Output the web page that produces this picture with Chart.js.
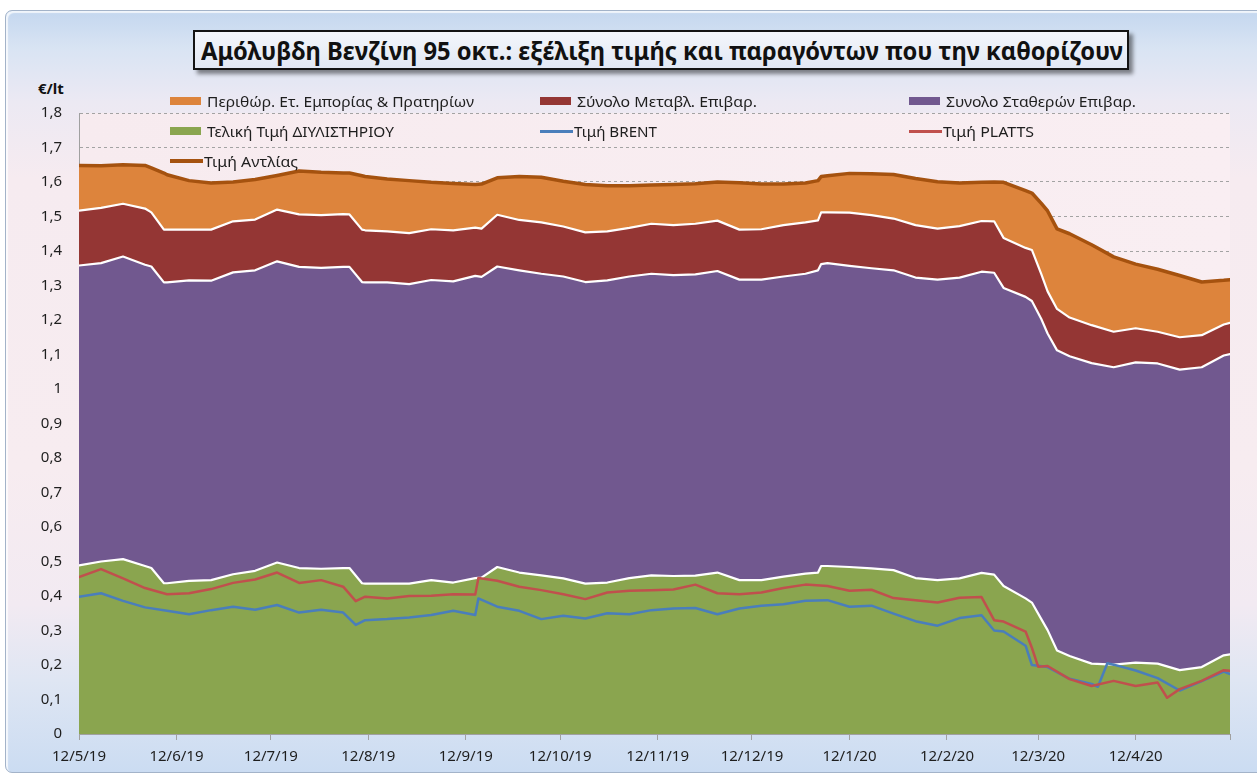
<!DOCTYPE html>
<html>
<head>
<meta charset="utf-8">
<script src="https://cdn.jsdelivr.net/npm/chart.js@4/dist/chart.umd.min.js"></script>
<style>
html,body{margin:0;padding:0;background:#ffffff;width:1257px;height:783px;overflow:hidden;font-family:"Noto Sans",sans-serif;}
#frame{position:absolute;left:5px;top:10px;width:1262px;height:763px;box-sizing:border-box;border:1px solid #a3b3c9;border-radius:7px 0 0 7px;
background:linear-gradient(to bottom,#c4d7ef 0%,#d9e4f3 5%,#ece9f3 12%,#f6ebf0 22%,#f7ecf0 60%,#f2eaf2 78%,#dfe6f3 88%,#cbdcf2 100%);
box-shadow:inset 2px 2px 1px rgba(255,255,255,0.75);}
#wrap{position:absolute;left:0;top:0;width:1257px;height:783px;}
#title{position:absolute;left:193px;top:30px;width:936px;height:40px;box-sizing:border-box;border:2px solid #141414;
background:linear-gradient(to bottom,#f4f6fb,#e2e8f4);box-shadow:4px 4px 4px rgba(0,0,0,0.45);overflow:visible;white-space:nowrap;}
#title span{position:absolute;left:6px;top:2px;font-weight:bold;font-size:25px;line-height:32px;color:#111;transform-origin:0 50%;display:inline-block;}
#unit{position:absolute;left:38px;top:78px;font-weight:bold;font-size:15px;line-height:20px;color:#111;}
.lg{position:absolute;height:20px;display:flex;align-items:center;white-space:nowrap;}
.lg .sw{display:inline-block;flex:none;}
.lg .tx{display:inline-block;font-size:15px;line-height:20px;color:#1e1e1e;transform-origin:0 50%;}
canvas{position:absolute;left:0;top:0;}
</style>
</head>
<body>
<div id="frame"></div>
<div id="title"><span id="titleText">Αμόλυβδη Βενζίνη 95 οκτ.: εξέλιξη τιμής και παραγόντων που την καθορίζουν</span></div>
<div id="unit">€/lt</div>
<div id="wrap"><canvas id="c" width="1257" height="783"></canvas></div>
<div id="legend"></div>
<script>
// ---- data (x = day offset from 12/5/2019) ----
const days = [0,7,14,21,23,27,28, 35,42,49,56,63,70,77,84, 86,90,91,98,105,112,119,126, 128,133,140,147,154,161,168,175, 182,189,196,203,210,217,224,231, 235,236,238,245,252,259,266,273, 280,287,291,294,301,303,306,308, 311,315,322,329,336,343,350,357, 364,366];
const refinery = [0.489,0.500,0.507,0.487,0.481,0.437,0.437, 0.444,0.446,0.463,0.473,0.497,0.481,0.479,0.481, 0.481,0.437,0.436,0.436,0.436,0.446,0.439,0.452, 0.453,0.484,0.468,0.460,0.451,0.436,0.439,0.452, 0.460,0.458,0.459,0.468,0.446,0.446,0.456,0.465, 0.468,0.487,0.487,0.484,0.480,0.475,0.452,0.446, 0.451,0.467,0.462,0.429,0.393,0.381,0.333,0.301, 0.242,0.226,0.204,0.201,0.207,0.204,0.185,0.194, 0.228,0.231];
const fixedCharges = [0.869,0.865,0.877,0.873,0.874,0.872,0.872, 0.871,0.868,0.875,0.871,0.873,0.873,0.872,0.873, 0.873,0.873,0.873,0.873,0.868,0.870,0.873,0.876, 0.872,0.871,0.876,0.874,0.875,0.874,0.876,0.874, 0.874,0.872,0.873,0.874,0.871,0.871,0.870,0.869, 0.876,0.875,0.878,0.873,0.870,0.869,0.871,0.871, 0.872,0.873,0.875,0.864,0.874,0.874,0.870,0.860, 0.870,0.869,0.871,0.862,0.870,0.870,0.871,0.869, 0.869,0.870];
const variableCharges = [0.159,0.160,0.153,0.163,0.157,0.153,0.153, 0.147,0.148,0.148,0.147,0.150,0.152,0.153,0.153, 0.152,0.152,0.151,0.148,0.148,0.147,0.148,0.140, 0.140,0.150,0.146,0.149,0.145,0.144,0.142,0.141, 0.145,0.145,0.147,0.146,0.145,0.146,0.149,0.149, 0.145,0.150,0.147,0.154,0.154,0.150,0.152,0.148, 0.149,0.147,0.149,0.145,0.142,0.148,0.130,0.122, 0.120,0.112,0.110,0.103,0.099,0.092,0.094,0.093, 0.090,0.091];
const margin = [0.131,0.122,0.113,0.125,0.129,0.164,0.159, 0.142,0.135,0.114,0.116,0.099,0.126,0.124,0.119, 0.120,0.156,0.156,0.152,0.152,0.136,0.136,0.125, 0.129,0.107,0.126,0.131,0.131,0.139,0.132,0.122, 0.112,0.118,0.116,0.112,0.136,0.131,0.119,0.114, 0.115,0.104,0.106,0.114,0.120,0.128,0.135,0.136, 0.125,0.112,0.114,0.161,0.166,0.165,0.205,0.233, 0.232,0.243,0.233,0.217,0.186,0.181,0.179,0.154, 0.128,0.125];
const pumpPrice = [1.648,1.647,1.650,1.648,1.641,1.626,1.621, 1.604,1.597,1.600,1.607,1.619,1.632,1.628,1.626, 1.626,1.618,1.616,1.609,1.604,1.599,1.596,1.593, 1.594,1.612,1.616,1.614,1.602,1.593,1.589,1.589, 1.591,1.593,1.595,1.600,1.598,1.594,1.594,1.597, 1.604,1.616,1.618,1.625,1.624,1.622,1.610,1.601, 1.597,1.599,1.600,1.599,1.575,1.568,1.538,1.516, 1.464,1.450,1.418,1.383,1.362,1.347,1.329,1.310, 1.315,1.317];
const brentDays = [0,7,14,21,28,35,42,49,56,63,70,77,84,88,91,98,105,112,119,126,127,133,140,147,154,161,168,175,182,189,196,203,210,217,224,231,238,245,252,259,266,273,280,287,291,294,301,303,308,315,322,324,327,329,336,343,350,357,364,366];
const brent = [0.398,0.408,0.386,0.367,0.357,0.347,0.359,0.369,0.360,0.374,0.352,0.360,0.352,0.316,0.330,0.333,0.338,0.345,0.357,0.345,0.393,0.369,0.357,0.333,0.343,0.335,0.350,0.347,0.359,0.364,0.365,0.347,0.364,0.372,0.376,0.386,0.388,0.369,0.372,0.349,0.327,0.314,0.336,0.344,0.300,0.297,0.256,0.200,0.194,0.160,0.145,0.137,0.205,0.201,0.184,0.162,0.126,0.153,0.181,0.174];
const plattsDays = [0,7,14,21,28,35,42,49,56,63,70,77,84,88,91,98,105,112,119,126,127,133,140,147,154,161,168,175,182,189,196,203,210,217,224,231,238,245,252,259,266,273,280,287,291,294,301,303,305,308,315,322,329,336,343,346,350,357,364,366];
const platts = [0.455,0.478,0.451,0.423,0.405,0.408,0.420,0.438,0.448,0.468,0.438,0.446,0.427,0.385,0.398,0.393,0.400,0.401,0.405,0.404,0.452,0.444,0.427,0.417,0.405,0.391,0.410,0.415,0.417,0.419,0.433,0.408,0.405,0.410,0.423,0.433,0.429,0.415,0.418,0.394,0.388,0.381,0.395,0.397,0.330,0.326,0.297,0.250,0.195,0.197,0.159,0.139,0.154,0.139,0.149,0.105,0.130,0.154,0.185,0.183];
const monthTicks = [0,31,61,92,123,153,184,214,245,276,305,336,366];
const monthLabels = ['12/5/19','12/6/19','12/7/19','12/8/19','12/9/19','12/10/19','12/11/19','12/12/19','12/1/20','12/2/20','12/3/20','12/4/20',''];

const FONT = '"Noto Sans", sans-serif';
const pts = (xs, ys) => xs.map((x, i) => ({x: x, y: ys[i]}));

const plotBg = {
  id: 'plotBg',
  beforeDraw(chart) {
    const {ctx, chartArea: a} = chart;
    ctx.save();
    const g = ctx.createLinearGradient(a.left, 0, a.right, 0);
    g.addColorStop(0, '#f7ebef');
    g.addColorStop(1, '#f9eef2');
    ctx.fillStyle = g;
    ctx.fillRect(a.left, a.top, a.right - a.left, a.bottom - a.top);
    ctx.restore();
  }
};

const chart = new Chart(document.getElementById('c'), {
  type: 'line',
  data: {
    datasets: [
      {label: 'Τελική Τιμή ΔΙΥΛΙΣΤΗΡΙΟΥ', data: pts(days, refinery), backgroundColor: '#8aa54f', borderColor: '#ffffff', borderWidth: 2.2, fill: 'origin', stack: 'areas', order: 10, kind: 'area'},
      {label: 'Συνολο Σταθερών Επιβαρ.', data: pts(days, fixedCharges), backgroundColor: '#71588f', borderColor: '#ffffff', borderWidth: 2.2, fill: '-1', stack: 'areas', order: 10, kind: 'area'},
      {label: 'Σύνολο Μεταβλ. Επιβαρ.', data: pts(days, variableCharges), backgroundColor: '#943634', borderColor: '#ffffff', borderWidth: 2.2, fill: '-1', stack: 'areas', order: 10, kind: 'area'},
      {label: 'Περιθώρ. Ετ. Εμπορίας & Πρατηρίων', data: pts(days, margin), backgroundColor: '#dd843c', borderColor: '#dd843c', borderWidth: 0, fill: '-1', stack: 'areas', order: 10, kind: 'area'},
      {label: 'Τιμή BRENT', data: pts(brentDays, brent), borderColor: '#4a7ebb', backgroundColor: '#4a7ebb', borderWidth: 2.5, fill: false, stack: 'brent', order: 2, kind: 'line'},
      {label: 'Τιμή PLATTS', data: pts(plattsDays, platts), borderColor: '#c0504d', backgroundColor: '#c0504d', borderWidth: 2.5, fill: false, stack: 'platts', order: 1, kind: 'line'},
      {label: 'Τιμή Αντλίας', data: pts(days, pumpPrice), borderColor: '#a5520f', backgroundColor: '#a5520f', borderWidth: 3.5, fill: false, stack: 'pump', order: 0, kind: 'line'}
    ]
  },
  options: {
    responsive: false,
    animation: false,
    events: [],
    elements: {point: {radius: 0}, line: {tension: 0, borderJoinStyle: 'round', borderCapStyle: 'round'}},
    layout: {padding: {top: 113, left: 0, right: 27, bottom: 0}},
    plugins: {legend: {display: false}, tooltip: {enabled: false}, title: {display: false}},
    scales: {
      x: {
        type: 'linear', min: 0, max: 366,
        afterBuildTicks: (s) => { s.ticks = monthTicks.map(v => ({value: v})); },
        afterFit: (s) => { s.height = 49; },
        ticks: {autoSkip: false, maxRotation: 0, padding: 8, color: '#1e1e1e', font: {family: FONT, size: 15},
          callback: (v) => monthLabels[monthTicks.indexOf(v)]},
        grid: {drawOnChartArea: false, drawTicks: true, tickLength: 6, color: '#a0a0a0'},
        border: {display: true, color: '#a0a0a0', width: 1}
      },
      y: {
        stacked: true, min: 0, max: 1.8,
        afterFit: (s) => { s.width = 79; },
        ticks: {stepSize: 0.1, padding: 17, color: '#1e1e1e', font: {family: FONT, size: 15},
          callback: (v) => String(Math.round(v * 10) / 10).replace('.', ',')},
        grid: {color: '#a3a3a3', lineWidth: 1, drawTicks: false},
        border: {display: true, color: '#a0a0a0', width: 1, dash: [3, 3]}
      }
    }
  },
  plugins: [plotBg]
});

// ---- legend (HTML, built from chart datasets) ----
const legendOrder = [3, 2, 1, 0, 4, 5, 6];
const legendSlots = [[170, 101, 267], [540, 101, 180], [909, 101, 190], [170, 131, 187], [540, 131, 83], [909, 131, 91], [170, 161, 94]];
const lg = document.getElementById('legend');
legendOrder.forEach((di, k) => {
  const ds = chart.data.datasets[di];
  const [lx, cy, tw] = legendSlots[k];
  const item = document.createElement('div');
  item.className = 'lg';
  item.style.left = lx + 'px';
  item.style.top = (cy - 10) + 'px';
  const sw = document.createElement('span');
  sw.className = 'sw';
  if (ds.kind === 'area') {
    sw.style.cssText = 'width:31px;height:8px;margin-right:6px;background:' + ds.backgroundColor;
  } else {
    sw.style.cssText = 'width:33px;height:' + (ds.borderWidth > 3 ? 4 : 3) + 'px;margin-right:1px;background:' + ds.borderColor;
  }
  const tx = document.createElement('span');
  tx.className = 'tx';
  tx.textContent = ds.label;
  tx.dataset.w = tw;
  item.appendChild(sw);
  item.appendChild(tx);
  lg.appendChild(item);
});

function fitAll() {
  document.querySelectorAll('.tx').forEach(el => {
    el.style.transform = '';
    const w = el.getBoundingClientRect().width;
    const t = +el.dataset.w;
    if (w > 0) el.style.transform = 'scaleX(' + (t / w).toFixed(4) + ')';
  });
  const tt = document.getElementById('titleText');
  tt.style.transform = '';
  const w = tt.getBoundingClientRect().width;
  if (w > 0) tt.style.transform = 'scaleX(' + (922 / w).toFixed(4) + ')';
}
fitAll();
if (document.fonts && document.fonts.ready) document.fonts.ready.then(fitAll);
</script>
</body>
</html>
